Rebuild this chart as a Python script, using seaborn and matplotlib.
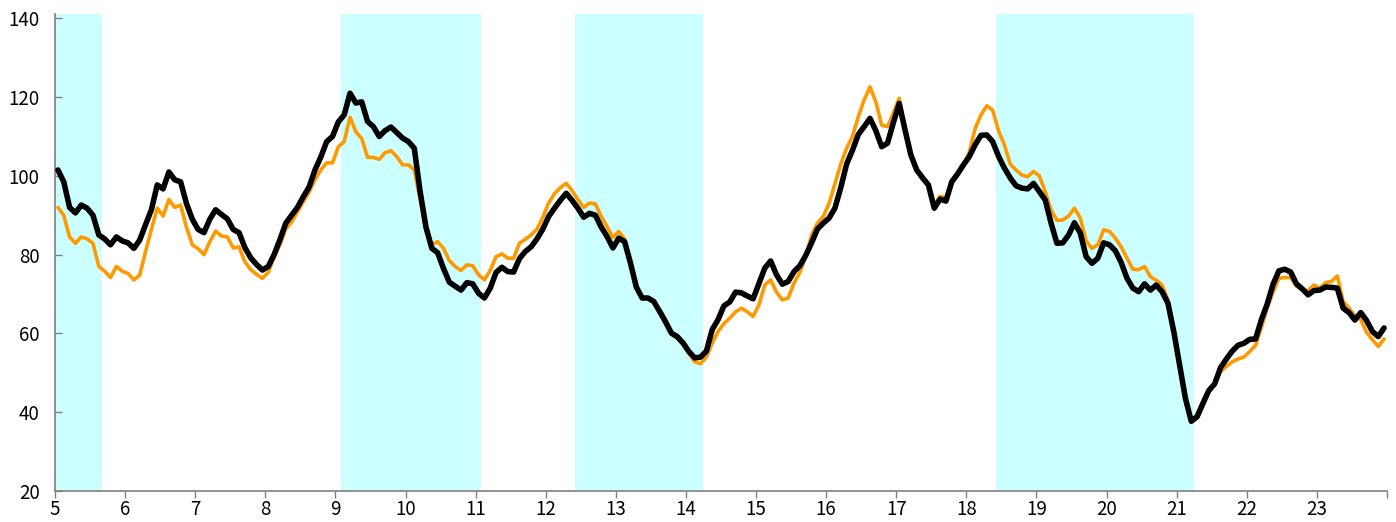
import numpy as np
import pandas as pd
import seaborn as sns
import matplotlib.pyplot as plt

# monthly index values, fiscal year 5 (Apr) .. 23 (Mar)
black_vals = [
    101.5, 98.5, 92, 90.6, 92.6, 91.8, 90, 85, 84, 82.5, 84.5, 83.5,
    83, 81.6, 83.7, 87.6, 91.4, 97.7, 96.7, 101, 99, 98.5, 93, 89,
    86.4, 85.6, 89, 91.4, 90.2, 89.1, 86.4, 85.6, 81.8, 79.2, 77.5, 76.1,
    77, 80, 83.8, 88, 90, 92, 94.7, 97.2, 101.5, 104.8, 108.7, 110,
    113.7, 115.5, 121, 118.5, 118.8, 113.8, 112.5, 110, 111.5, 112.4, 111, 109.6,
    108.7, 107, 96, 87, 81.6, 80.5, 76.5, 73, 72, 71, 72.9, 72.6,
    70.2, 69, 71.5, 75.5, 76.8, 75.7, 75.6, 79, 80.8, 82, 84, 86.5,
    89.7, 91.8, 93.8, 95.6, 93.8, 91.8, 89.5, 90.5, 90, 87, 84.6, 81.7,
    84.2, 83.3, 77.9, 71.8, 69, 69, 68.1, 65.6, 63, 60.1, 59.2, 57.6,
    55.4, 53.8, 54, 55.5, 61, 63.5, 67, 68, 70.5, 70.3, 69.5, 68.8,
    72.7, 76.6, 78.4, 74.9, 72.5, 73.2, 75.7, 77.2, 79.8, 83, 86.5, 88,
    89.3, 91.8, 97, 103, 106.5, 110.5, 112.5, 114.6, 111.5, 107.4, 108.3, 113.5,
    118.4, 111.7, 105.3, 101.5, 99.5, 97.7, 91.8, 94.1, 93.6, 98.5, 100.5, 102.8,
    104.9, 107.9, 110.3, 110.4, 108.7, 105, 102, 99.5, 97.5, 96.9, 96.7, 98.1,
    96, 93.9, 88, 82.9, 83, 85, 88.1, 85.5, 79.5, 77.8, 79.1, 83,
    82.5, 81, 78, 74, 71.5, 70.6, 72.6, 71, 72.3, 70.6, 67.7, 60.5,
    52, 43.5, 37.7, 38.9, 42.3, 45.5, 47.2, 51.3, 53.5, 55.5, 57, 57.5,
    58.5, 58.6, 63.5, 67.5, 72.5, 75.9, 76.3, 75.6, 72.6, 71.3, 69.8, 70.9,
    71, 71.8, 71.7, 71.5, 66.4, 65.3, 63.4, 65.3, 63.3, 60.5, 59.2, 61.4,
]

orange_vals = [
    92, 90, 84.5, 82.9, 84.5, 84, 82.9, 77, 75.8, 74.2, 77, 75.8,
    75.2, 73.6, 74.8, 80.8, 86.4, 91.8, 89.8, 94, 92, 92.6, 87, 82.5,
    81.5, 80, 83.3, 86, 84.7, 84.5, 81.7, 82, 78.2, 76.2, 75, 74,
    75.5, 79.3, 82.5, 86.5, 88.3, 90.9, 93.4, 95.9, 99, 101.5, 103.3, 103.3,
    107.4, 108.7, 114.9, 111.2, 109.5, 104.7, 104.7, 104.2, 105.9, 106.4, 104.9, 102.8,
    102.8, 101.5, 94, 86, 82.5, 83.3, 81.6, 78.5, 77, 76, 77.4, 77.2,
    74.9, 73.6, 76, 79.5, 80.2, 79.1, 79.1, 82.9, 83.9, 85, 86.5, 89.5,
    93.1, 95.5, 97, 98.1, 96.3, 94, 92, 93.1, 92.9, 89.7, 87.1, 84.4,
    85.9, 84, 78, 72, 69, 69, 68, 65.2, 62.5, 59.8, 58.8, 57.2,
    55, 52.8, 52.3, 54, 57.5, 60.5, 62.5, 63.9, 65.5, 66.4, 65.5, 64.3,
    67.3, 72.3, 73.6, 70.5, 68.5, 69, 72.8, 75.5, 79.5, 85, 88, 89.7,
    93, 98, 103, 107, 110, 115, 119.3, 122.6, 118.8, 112.9, 112.5, 116,
    119.7, 111.7, 105.5, 101.5, 99.7, 98, 92.5, 94.8, 94.5, 98.5, 100.5, 102.8,
    106, 112, 115.5, 117.8, 116.7, 111.5, 107.9, 103, 101.5, 100.2, 99.8, 101.1,
    100, 96, 91.4, 88.7, 88.8, 89.8, 91.8, 89.3, 83.5, 81.6, 82.5, 86.3,
    85.9, 84.2, 82, 79.1, 76.3, 76.2, 77, 74.4, 73.5, 72.3, 68.5, 60.5,
    52, 43.5, 37.5, 38.5, 41.5, 45.2, 47, 50.3, 51.6, 52.8, 53.5, 54,
    55.4, 57, 61.5, 66.5, 70.5, 74, 74.2, 74.2, 72, 71.1, 70.9, 72.3,
    71.5, 72.9, 73.2, 74.6, 68.1, 66.4, 64.5, 63.5, 60.3, 58.4, 56.7, 58.6,
]

# shaded periods (start / end in fiscal-year units)
shade_start = [5.0, 9.0833, 12.4167, 18.4167]
shade_end = [5.6667, 11.0833, 14.25, 21.25]

year_ticks = list(range(5, 25))
year_labels = [str(y) for y in range(5, 24)] + [""]

first_year = 5
n = len(black_vals)
x = first_year + (np.arange(n) + 0.5) / 12

df = pd.DataFrame({
    "x": np.concatenate([x, x]),
    "value": orange_vals + black_vals,
    "series": ["orange"] * n + ["black"] * n,
})

sns.set_style("white")
plt.rcParams["font.family"] = ["Noto Sans CJK JP", "DejaVu Sans"]

fig = plt.figure(figsize=(13.96, 5.22), dpi=100)
ax = fig.add_axes([55 / 1396, 1 - 491 / 522, (1387 - 55) / 1396, (491 - 14.4) / 522])

for s, e in zip(shade_start, shade_end):
    ax.axvspan(s, e, color="#CCFFFF", lw=0, zorder=0)

sns.lineplot(data=df[df.series == "orange"], x="x", y="value",
             color="#FF9900", linewidth=2.6, ax=ax, zorder=2)
sns.lineplot(data=df[df.series == "black"], x="x", y="value",
             color="black", linewidth=4.0, ax=ax, zorder=3)

ax.set_xlim(5, 24)
ax.set_ylim(20, 141)
ax.set_yticks(range(20, 141, 20))
ax.set_xticks(year_ticks)
ax.set_xticklabels(year_labels)
ax.set_xlabel("")
ax.set_ylabel("")

for side in ["top", "right"]:
    ax.spines[side].set_visible(False)
for side in ["left", "bottom"]:
    ax.spines[side].set_color("#808080")
    ax.spines[side].set_linewidth(1.2)

ax.tick_params(axis="y", direction="in", length=5, width=1, color="#808080",
               labelsize=13.5, labelcolor="black", pad=11)
ax.tick_params(axis="x", direction="out", length=5, width=1, color="#808080",
               labelsize=13.5, labelcolor="black", pad=1)
ax.tick_params(left=True, bottom=True)

fig.savefig("out.png", dpi=100)
